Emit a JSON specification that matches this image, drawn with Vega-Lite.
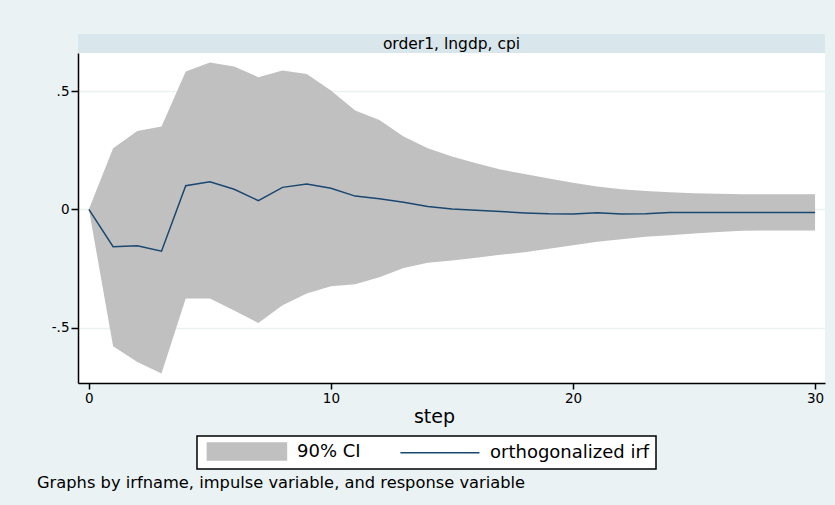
{
  "$schema": "https://vega.github.io/schema/vega-lite/v6.json",
  "background": "#EAF2F3",
  "padding": {"left": 37, "top": 34, "right": 10, "bottom": 15},
  "bounds": "flush",
  "spacing": 0,
  "config": {"font": "DejaVu Sans"},
  "resolve": {"scale": {"color": "independent"}, "legend": {"color": "independent"}},
  "vconcat": [
    {
      "width": 747,
      "height": 19,
      "view": {"fill": "#D9E6EB", "stroke": null},
      "data": {"values": [{"label": "order1, lngdp, cpi"}]},
      "mark": {"type": "text", "font": "DejaVu Sans", "fontSize": 15.5, "color": "#000000"},
      "encoding": {"text": {"field": "label"}}
    },
    {
      "width": 747,
      "height": 330,
      "view": {"fill": "#FFFFFF", "stroke": null},
      "title": {
        "text": "Graphs by irfname, impulse variable, and response variable",
        "orient": "bottom",
        "anchor": "start",
        "frame": "group",
        "dx": -41,
        "offset": 5,
        "font": "DejaVu Sans",
        "fontSize": 16.3,
        "fontWeight": "normal",
        "color": "#000000"
      },
      "data": {
        "values": [
          {"step": 0, "irf": 0, "lo": 0, "hi": 0},
          {"step": 1, "irf": -0.158, "lo": -0.579, "hi": 0.258},
          {"step": 2, "irf": -0.154, "lo": -0.645, "hi": 0.331},
          {"step": 3, "irf": -0.177, "lo": -0.694, "hi": 0.35},
          {"step": 4, "irf": 0.1, "lo": -0.377, "hi": 0.583},
          {"step": 5, "irf": 0.117, "lo": -0.377, "hi": 0.621},
          {"step": 6, "irf": 0.085, "lo": -0.427, "hi": 0.604},
          {"step": 7, "irf": 0.037, "lo": -0.48, "hi": 0.559},
          {"step": 8, "irf": 0.093, "lo": -0.405, "hi": 0.587},
          {"step": 9, "irf": 0.107, "lo": -0.356, "hi": 0.572},
          {"step": 10, "irf": 0.089, "lo": -0.325, "hi": 0.503},
          {"step": 11, "irf": 0.056, "lo": -0.317, "hi": 0.418},
          {"step": 12, "irf": 0.045, "lo": -0.287, "hi": 0.378},
          {"step": 13, "irf": 0.03, "lo": -0.248, "hi": 0.308},
          {"step": 14, "irf": 0.012, "lo": -0.226, "hi": 0.258},
          {"step": 15, "irf": 0.002, "lo": -0.216, "hi": 0.223},
          {"step": 16, "irf": -0.004, "lo": -0.205, "hi": 0.195},
          {"step": 17, "irf": -0.009, "lo": -0.192, "hi": 0.168},
          {"step": 18, "irf": -0.015, "lo": -0.181, "hi": 0.15},
          {"step": 19, "irf": -0.019, "lo": -0.167, "hi": 0.13},
          {"step": 20, "irf": -0.02, "lo": -0.152, "hi": 0.112},
          {"step": 21, "irf": -0.014, "lo": -0.137, "hi": 0.097},
          {"step": 22, "irf": -0.02, "lo": -0.126, "hi": 0.085},
          {"step": 23, "irf": -0.019, "lo": -0.116, "hi": 0.078},
          {"step": 24, "irf": -0.013, "lo": -0.109, "hi": 0.072},
          {"step": 25, "irf": -0.013, "lo": -0.102, "hi": 0.068},
          {"step": 26, "irf": -0.013, "lo": -0.096, "hi": 0.066},
          {"step": 27, "irf": -0.013, "lo": -0.09, "hi": 0.064},
          {"step": 28, "irf": -0.013, "lo": -0.089, "hi": 0.064},
          {"step": 29, "irf": -0.013, "lo": -0.089, "hi": 0.064},
          {"step": 30, "irf": -0.013, "lo": -0.089, "hi": 0.064}
        ]
      },
      "encoding": {
        "x": {
          "field": "step",
          "type": "quantitative",
          "scale": {"domain": [-0.45, 30.41], "nice": false, "zero": false},
          "axis": {
            "values": [0, 10, 20, 30],
            "title": "step",
            "titleFont": "DejaVu Sans",
            "titleFontSize": 19,
            "titleFontWeight": "normal",
            "titleColor": "#000000",
            "titleX": 356,
            "titlePadding": 3,
            "labelFont": "DejaVu Sans",
            "labelFontSize": 13.5,
            "labelColor": "#000000",
            "labelFlush": false,
            "labelPadding": 2,
            "tickSize": 6,
            "tickColor": "#000000",
            "tickWidth": 1.5,
            "domainColor": "#000000",
            "domainWidth": 1.5,
            "grid": false
          }
        }
      },
      "layer": [
        {
          "mark": {"type": "area", "opacity": 1},
          "encoding": {
            "y": {
              "field": "lo",
              "type": "quantitative",
              "scale": {"domain": [-0.734, 0.661], "nice": false, "zero": false},
              "axis": {
                "values": [-0.5, 0, 0.5],
                "title": null,
                "labelExpr": "datum.value == 0.5 ? '.5' : (datum.value == -0.5 ? '-.5' : '0')",
                "labelFont": "DejaVu Sans",
                "labelFontSize": 13.5,
                "labelColor": "#000000",
                "labelPadding": 2,
                "tickSize": 7,
                "tickColor": "#000000",
                "tickWidth": 1.5,
                "domainColor": "#000000",
                "domainWidth": 1.5,
                "grid": true,
                "gridColor": "#EAF2F3",
                "gridWidth": 1.5
              }
            },
            "y2": {"field": "hi"},
            "color": {
              "datum": "90% CI",
              "scale": {"domain": ["90% CI", "orthogonalized irf"], "range": ["#C0C0C0", "#1A476F"]},
              "legend": {
                "orient": "none",
                "legendX": 119,
                "legendY": 383,
                "direction": "horizontal",
                "title": null,
                "strokeColor": "#000000",
                "fillColor": "#FFFFFF",
                "padding": 6,
                "symbolSize": 289,
                "labelOffset": 75,
                "columnPadding": 35,
                "labelFont": "DejaVu Sans",
                "labelFontSize": 18,
                "labelColor": "#000000",
                "labelLimit": 300,
                "encode": {
                  "legend": {"update": {"strokeWidth": {"value": 1.5}}},
                  "symbols": {
                    "update": {
                      "shape": {"signal": "datum.value === '90% CI' ? 'M-0.6,-1H8.7V1H-0.6Z' : 'M-0.6,0H8.7'"},
                      "fill": {"signal": "datum.value === '90% CI' ? '#C0C0C0' : 'transparent'"},
                      "stroke": {"signal": "datum.value === '90% CI' ? 'transparent' : '#1A476F'"},
                      "strokeWidth": {"value": 1.5},
                      "opacity": {"value": 1}
                    }
                  }
                }
              }
            }
          }
        },
        {
          "mark": {"type": "line", "strokeWidth": 1.5},
          "encoding": {
            "y": {"field": "irf", "type": "quantitative"},
            "color": {
              "datum": "orthogonalized irf",
              "legend": {
                "orient": "none",
                "legendX": 119,
                "legendY": 383,
                "direction": "horizontal",
                "title": null,
                "strokeColor": "#000000",
                "fillColor": "#FFFFFF",
                "padding": 6,
                "symbolSize": 289,
                "labelOffset": 75,
                "columnPadding": 35,
                "labelFont": "DejaVu Sans",
                "labelFontSize": 18,
                "labelColor": "#000000",
                "labelLimit": 300,
                "encode": {
                  "legend": {"update": {"strokeWidth": {"value": 1.5}}},
                  "symbols": {
                    "update": {
                      "shape": {"signal": "datum.value === '90% CI' ? 'M-0.6,-1H8.7V1H-0.6Z' : 'M-0.6,0H8.7'"},
                      "fill": {"signal": "datum.value === '90% CI' ? '#C0C0C0' : 'transparent'"},
                      "stroke": {"signal": "datum.value === '90% CI' ? 'transparent' : '#1A476F'"},
                      "strokeWidth": {"value": 1.5},
                      "opacity": {"value": 1}
                    }
                  }
                }
              }
            }
          }
        }
      ]
    }
  ]
}
